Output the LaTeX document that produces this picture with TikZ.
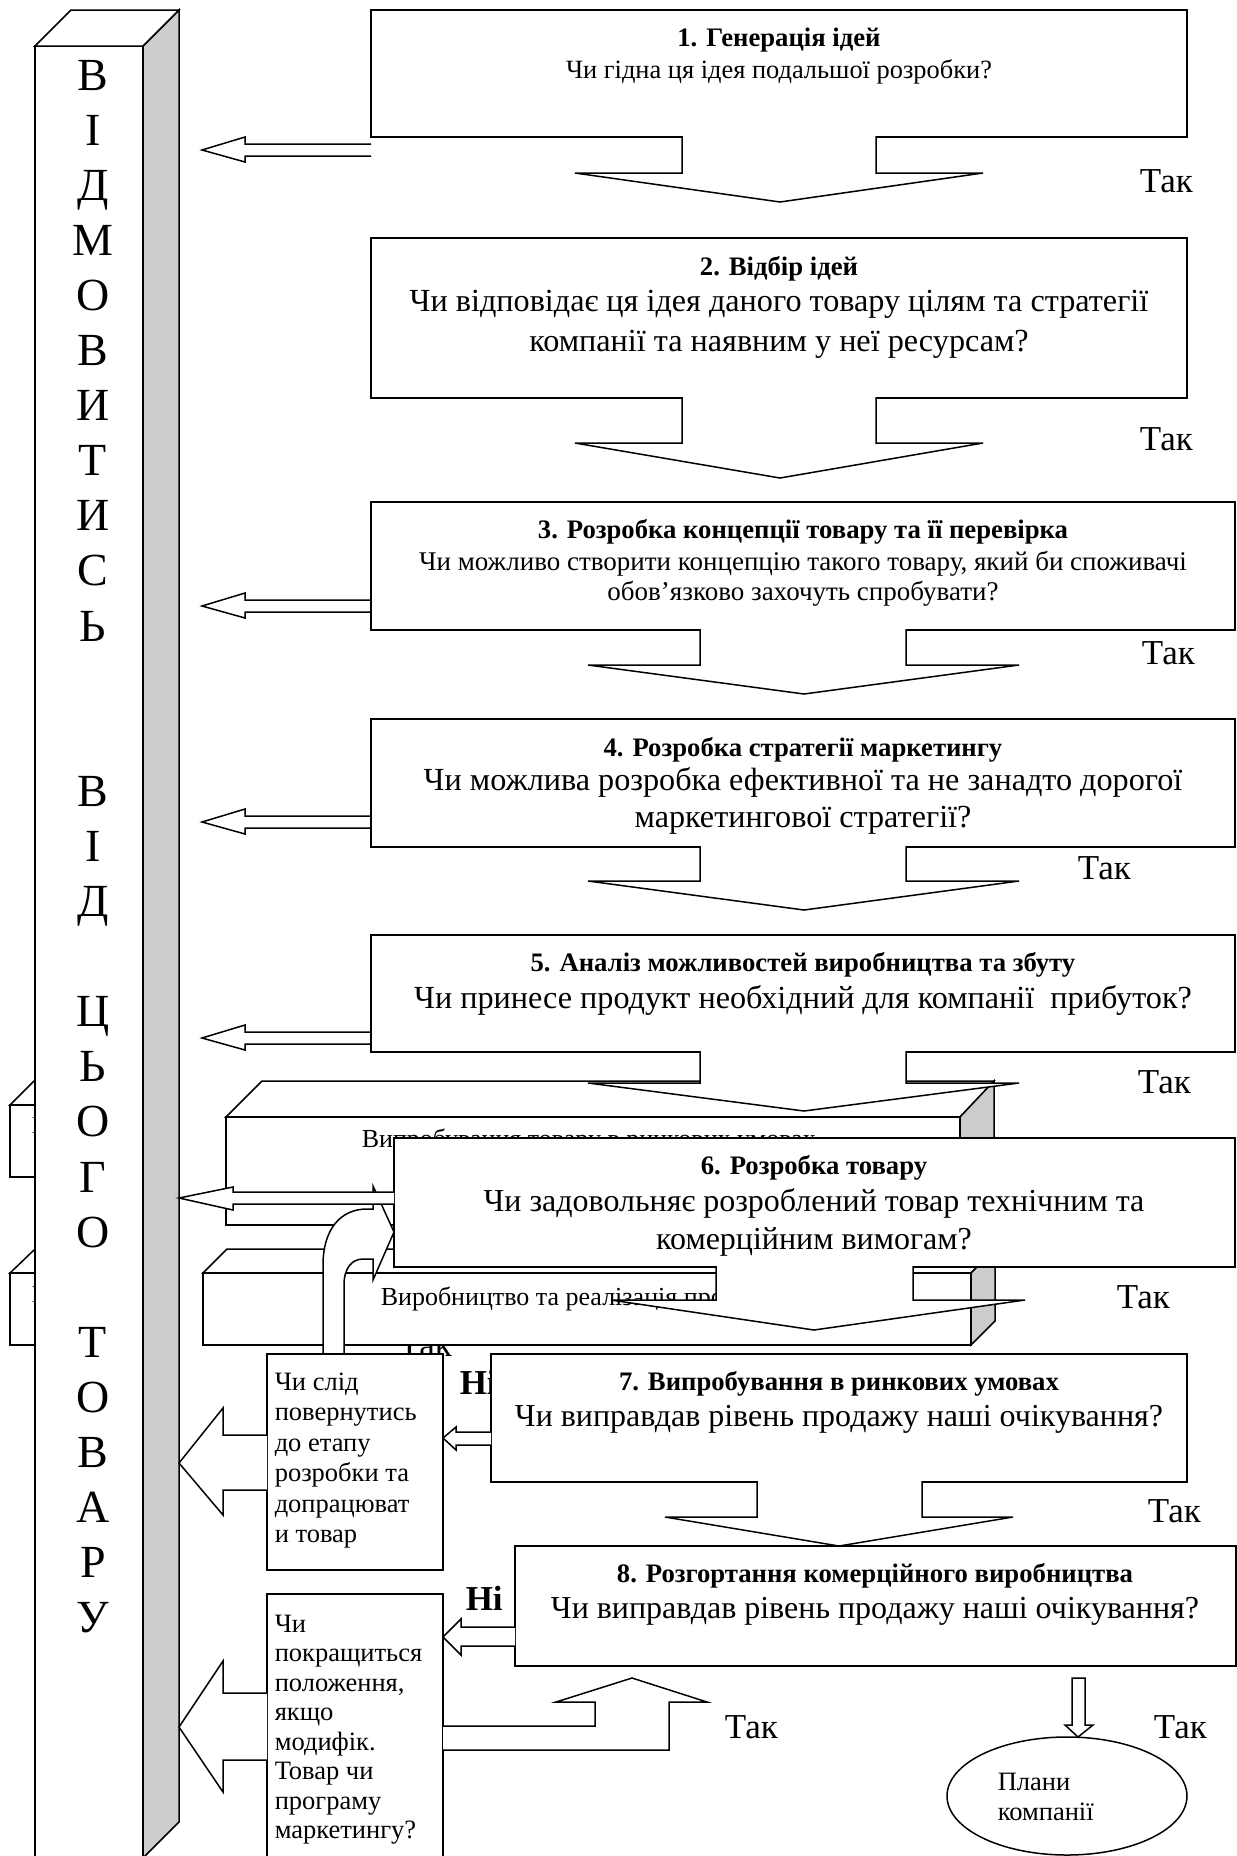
\documentclass[tikz,border=0pt]{standalone}
\usepackage{fontspec}
\setmainfont{Liberation Serif}
\usetikzlibrary{shapes.geometric}
\definecolor{sidegray}{RGB}{204,204,204}
\newcommand{\fsz}[2]{\fontsize{#1}{#2}\selectfont}

\begin{document}
\begin{tikzpicture}[x=1pt,y=-1pt,line width=1.5pt,
	stagebox/.style={draw,fill=white,inner sep=0pt},
	stagetitle/.style={anchor=north,inner sep=0pt,font=\fsz{26.7}{30}\bfseries},
	stageask/.style={anchor=north,inner sep=0pt,align=center},
	sidenote/.style={anchor=north west,inner sep=0pt,align=left,font=\fsz{26.5}{30.5}},
	yeslbl/.style={anchor=base west,inner sep=0pt,font=\fsz{35}{40}},
	nolbl/.style={anchor=base west,inner sep=0pt,font=\fsz{35}{40}\bfseries},
	topface/.style={draw,fill=white},
	sideface/.style={draw,fill=sidegray},
	blockarrow/.style={draw,fill=white}]

	\useasboundingbox (0,0) rectangle (1237,1856);

	% boxes hidden behind the pillar
	\draw[topface] (10,1105) -- (34,1081) -- (154,1081) -- (130,1105) -- cycle;
	\node[stagebox,minimum width=120pt,minimum height=72pt] (hidA) at (70,1141) {};
	\node[anchor=base west,inner sep=0pt,font=\fsz{24}{28}] (hidAtext) at (31,1133) {В};
	\draw[topface] (10,1273) -- (34,1250) -- (154,1250) -- (130,1273) -- cycle;
	\node[stagebox,minimum width=120pt,minimum height=72pt] (hidB) at (70,1309) {};
	\node[anchor=base west,inner sep=0pt,font=\fsz{24}{28}] (hidBtext) at (31,1302) {В};

	% pillar
	\draw[topface] (35,46) rectangle (143,1870);
	\draw[sideface] (143,46) -- (179,10) -- (179,1822) -- (143,1858) -- cycle;
	\draw[topface] (35,46) -- (71,10) -- (179,10) -- (143,46) -- cycle;
	\foreach \ch [count=\k from 0] in {В,І,Д,М,О,В,И,Т,И,С,Ь,{},{},В,І,Д,{},Ц,Ь,О,Г,О,{},Т,О,В,А,Р,У}
		\node[anchor=base,inner sep=0pt,font=\fsz{46}{50}] (p\k) at (93,{90+55.1*\k}) {\ch};

	% refusals
	\draw[blockarrow] (371,144) -- (245,144) -- (245,137) -- (202,150) -- (245,162) -- (245,156) -- (371,156);
	\draw[blockarrow] (371,600) -- (245,600) -- (245,593) -- (202,606) -- (245,618) -- (245,612) -- (371,612);
	\draw[blockarrow] (371,816) -- (245,816) -- (245,809) -- (202,822) -- (245,834) -- (245,828) -- (371,828);
	\draw[blockarrow] (371,1032) -- (245,1032) -- (245,1025) -- (202,1038) -- (245,1050) -- (245,1044) -- (371,1044);

	% stages 1-5
	\node[stagebox,minimum width=816pt,minimum height=127pt] (s1) at (779,73.5) {};
	\node[stagetitle] (s1t) at (779,27) {1. Генерація ідей};
	\node[stageask,font=\fsz{26.4}{30}] (s1q) at (779,59) {Чи гідна ця ідея подальшої розробки?};
	\node[stagebox,minimum width=816pt,minimum height=160pt] (s2) at (779,318) {};
	\node[stagetitle] (s2t) at (779,256) {2. Відбір ідей};
	\node[stageask,font=\fsz{32.2}{40}] (s2q) at (779,289) {Чи відповідає ця ідея даного товару цілям та стратегії\\компанії та наявним у неї ресурсам?};
	\node[stagebox,minimum width=864pt,minimum height=128pt] (s3) at (803,566) {};
	\node[stagetitle] (s3t) at (803,519) {3. Розробка концепції товару та її перевірка};
	\node[stageask,font=\fsz{27}{30}] (s3q) at (803,550) {Чи можливо створити концепцію такого товару, який би споживачі\\обов’язково захочуть спробувати?};
	\node[stagebox,minimum width=864pt,minimum height=128pt] (s4) at (803,783) {};
	\node[stagetitle] (s4t) at (803,737) {4. Розробка стратегії маркетингу};
	\node[stageask,font=\fsz{32.2}{37}] (s4q) at (803,767) {Чи можлива розробка ефективної та не занадто дорогої\\маркетингової стратегії?};
	\node[stagebox,minimum width=864pt,minimum height=117pt] (s5) at (803,993.5) {};
	\node[stagetitle] (s5t) at (803,952) {5. Аналіз можливостей виробництва та збуту};
	\node[stageask,font=\fsz{32.2}{38}] (s5q) at (803,985) {Чи принесе продукт необхідний для компанії\ \ прибуток?};

	\draw[blockarrow] (682,136) -- (682,173) -- (575,173) -- (780,202) -- (983,173) -- (876,173) -- (876,136);
	\draw[blockarrow] (682,397) -- (682,443) -- (575,443) -- (780,478) -- (983,443) -- (876,443) -- (876,397);
	\draw[blockarrow] (700,629) -- (700,665) -- (588,665) -- (804,694) -- (1019,665) -- (906,665) -- (906,629);
	\draw[blockarrow] (700,846) -- (700,881) -- (588,881) -- (804,910) -- (1019,881) -- (906,881) -- (906,846);

	\node[yeslbl] (y1) at (1139,192) {Так};
	\node[yeslbl] (y2) at (1139,450) {Так};
	\node[yeslbl] (y3) at (1141,664) {Так};
	\node[yeslbl] (y4) at (1077,879) {Так};
	\node[yeslbl] (y5) at (1137,1093) {Так};
	\node[yeslbl] (yhid) at (398,1356) {Так};

	% market test and production blocks
	\draw[topface] (226,1117) -- (262,1081) -- (994,1081) -- (960,1117) -- cycle;
	\draw[sideface] (960,1117) -- (994,1081) -- (994,1189) -- (960,1225) -- cycle;
	\node[stagebox,minimum width=734pt,minimum height=108pt] (trial) at (593,1171) {};
	\node[anchor=base west,inner sep=0pt,font=\fsz{26}{30}] (trialt) at (361,1147) {Випробування товару в ринкових умовах};
	\draw[topface] (203,1273) -- (227,1249) -- (995,1249) -- (971,1273) -- cycle;
	\draw[sideface] (971,1273) -- (995,1249) -- (995,1321) -- (971,1345) -- cycle;
	\node[stagebox,minimum width=768pt,minimum height=72pt] (prod) at (587,1309) {};
	\node[anchor=base west,inner sep=0pt,font=\fsz{26}{30}] (prodt) at (380,1305) {Виробництво та реалізація продукції};

	\draw[blockarrow] (700,1051) -- (700,1083) -- (588,1083) -- (804,1111) -- (1019,1083) -- (906,1083) -- (906,1051);

	% stage 6
	\node[stagebox,minimum width=841pt,minimum height=129pt] (s6) at (814.5,1202.5) {};
	\node[stagetitle] (s6t) at (814,1155) {6. Розробка товару};
	\node[stageask,font=\fsz{32}{38}] (s6q) at (814,1188) {Чи задовольняє розроблений товар технічним та\\комерційним вимогам?};
	\draw[blockarrow] (716,1266) -- (716,1300) -- (611,1300) -- (814,1330) -- (1025,1300) -- (913,1300) -- (913,1266);
	\node[yeslbl] (y6) at (1116,1308) {Так};

	\draw[blockarrow] (323,1355) -- (323,1265) .. controls (323,1230) and (340,1209) .. (367,1209) -- (373,1209) -- (373,1186) -- (394,1232) -- (373,1280) -- (373,1259) -- (363,1259) .. controls (352,1259) and (344,1268) .. (344,1285) -- (344,1355);
	\draw[blockarrow] (394,1192) -- (233,1192) -- (233,1187) -- (179,1198) -- (233,1210) -- (233,1204) -- (394,1204);

	% stage 7
	\node[stagebox,minimum width=176pt,minimum height=216pt] (back) at (355,1462) {};
	\node[sidenote] (backt) at (274,1372) {Чи слід\\повернутись\\до етапу\\розробки та\\допрацюват\\и товар};
	\node[nolbl] (n1) at (459,1394) {Ні};
	\node[stagebox,minimum width=696pt,minimum height=128pt] (s7) at (839,1418) {};
	\node[stagetitle] (s7t) at (839,1371) {7. Випробування в ринкових умовах};
	\node[stageask,font=\fsz{32}{38}] (s7q) at (839,1405) {Чи виправдав рівень продажу наші очікування?};
	\draw[blockarrow] (491,1432) -- (456,1432) -- (456,1427) -- (443,1438) -- (456,1450) -- (456,1445) -- (491,1445);
	\draw[blockarrow] (267,1435) -- (223,1435) -- (223,1408) -- (179,1463) -- (223,1515) -- (223,1490) -- (267,1490);
	\draw[blockarrow] (757,1481) -- (757,1517) -- (665,1517) -- (839,1546) -- (1013,1517) -- (922,1517) -- (922,1481);
	\node[yeslbl] (y7) at (1147,1522) {Так};

	% stage 8
	\node[stagebox,minimum width=721pt,minimum height=120pt] (s8) at (875.5,1606) {};
	\node[stagetitle] (s8t) at (875,1563) {8. Розгортання комерційного виробництва};
	\node[stageask,font=\fsz{32}{38}] (s8q) at (875,1597) {Чи виправдав рівень продажу наші очікування?};
	\node[nolbl] (n2) at (465,1610) {Ні};
	\node[stagebox,minimum width=176pt,minimum height=276pt] (modify) at (355,1732) {};
	\node[sidenote,font=\fsz{26.5}{29.5}] (modifyt) at (274,1614) {Чи\\покращиться\\положення,\\якщо\\модифік.\\Товар чи\\програму\\маркетингу?};
	\draw[blockarrow] (515,1627) -- (461,1627) -- (461,1619) -- (443,1637) -- (461,1655) -- (461,1646) -- (515,1646);
	\draw[blockarrow] (267,1693) -- (223,1693) -- (223,1661) -- (179,1727) -- (223,1792) -- (223,1760) -- (267,1760);
	\draw[blockarrow] (443,1726) -- (595,1726) -- (595,1702) -- (556,1702) -- (632,1678) -- (707,1702) -- (669,1702) -- (669,1750) -- (443,1750);
	\node[yeslbl] (y8) at (724,1738) {Так};

	\draw[blockarrow] (1072,1678) -- (1072,1725) -- (1065,1725) -- (1078,1737) -- (1093,1725) -- (1085,1725) -- (1085,1678) -- cycle;
	\node[yeslbl] (y9) at (1153,1738) {Так};
	\node[draw,ellipse,minimum width=240pt,minimum height=118pt,inner sep=0pt] (plans) at (1067,1796) {};
	\node[sidenote] (planst) at (997,1772) {Плани\\компанії};
\end{tikzpicture}
\end{document}
